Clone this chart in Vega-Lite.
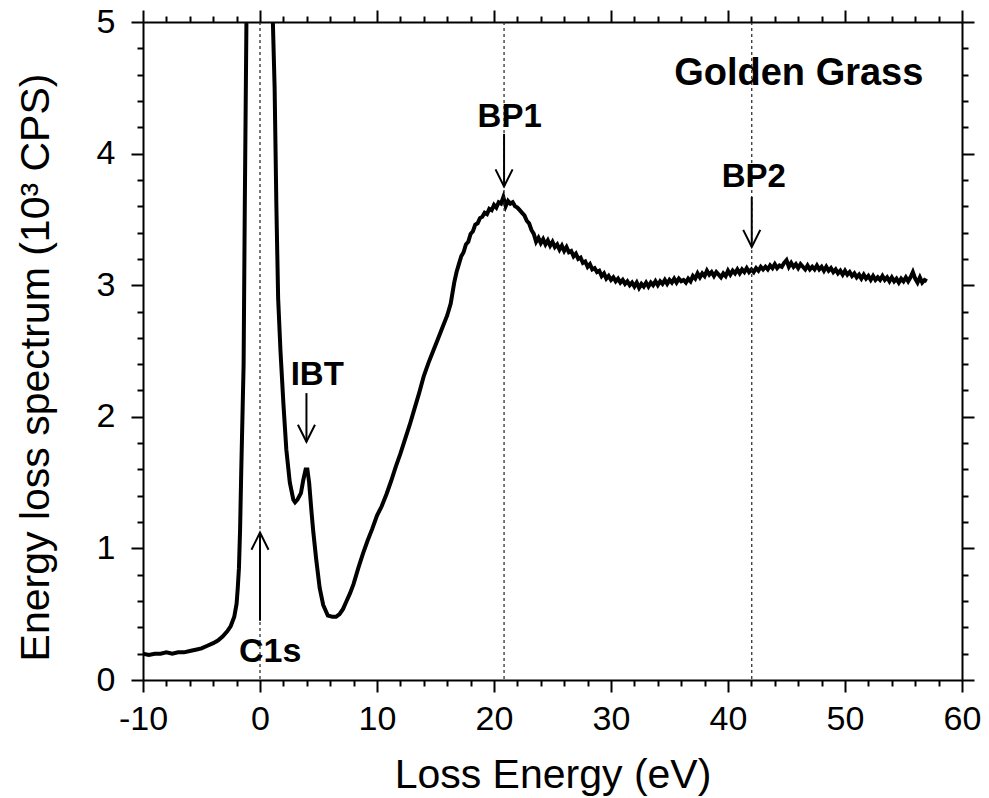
{
  "$schema": "https://vega.github.io/schema/vega-lite/v6.json",
  "width": 819,
  "height": 658,
  "autosize": {"type": "none"},
  "padding": {"left": 143, "top": 22, "right": 27, "bottom": 118},
  "background": "white",
  "config": {
    "view": {"stroke": null},
    "axis": {
      "grid": false,
      "domainColor": "black",
      "domainWidth": 2,
      "tickColor": "black",
      "tickWidth": 2,
      "labelFont": "Liberation Sans",
      "labelFontSize": 34,
      "labelColor": "black",
      "titleFont": "Liberation Sans",
      "titleFontSize": 38,
      "titleFontWeight": "normal",
      "titleColor": "black",
      "labelOverlap": false,
      "labelFlush": false
    }
  },
  "datasets": {
    "curve": [
      {"x": -10, "y": 0.2}, {"x": -9.5, "y": 0.19}, {"x": -9, "y": 0.2}, {"x": -8.5, "y": 0.2}, {"x": -8, "y": 0.21},
      {"x": -7.5, "y": 0.2}, {"x": -7, "y": 0.21}, {"x": -6.5, "y": 0.21}, {"x": -6, "y": 0.22}, {"x": -5.5, "y": 0.23},
      {"x": -5, "y": 0.24}, {"x": -4.5, "y": 0.26}, {"x": -4, "y": 0.28}, {"x": -3.6, "y": 0.3}, {"x": -3.2, "y": 0.33},
      {"x": -2.8, "y": 0.37}, {"x": -2.5, "y": 0.41}, {"x": -2.2, "y": 0.48}, {"x": -2.0, "y": 0.58}, {"x": -1.9, "y": 0.7},
      {"x": -1.8, "y": 0.85}, {"x": -1.7, "y": 1.15}, {"x": -1.6, "y": 1.6}, {"x": -1.5, "y": 2.0}, {"x": -1.4, "y": 2.4},
      {"x": -1.3, "y": 3.6}, {"x": -1.2, "y": 4.6}, {"x": -1.1, "y": 5.6}, {"x": -0.9, "y": 7.5}, {"x": -0.5, "y": 11},
      {"x": 0, "y": 13}, {"x": 0.5, "y": 11}, {"x": 0.9, "y": 7}, {"x": 1.1, "y": 5.0}, {"x": 1.25, "y": 4.5},
      {"x": 1.4, "y": 3.6}, {"x": 1.55, "y": 2.9}, {"x": 1.75, "y": 2.5}, {"x": 2.0, "y": 2.1}, {"x": 2.25, "y": 1.75},
      {"x": 2.55, "y": 1.5}, {"x": 2.85, "y": 1.37}, {"x": 3.0, "y": 1.35}, {"x": 3.2, "y": 1.37}, {"x": 3.5, "y": 1.42},
      {"x": 3.7, "y": 1.52}, {"x": 3.9, "y": 1.6}, {"x": 4.05, "y": 1.6}, {"x": 4.2, "y": 1.5}, {"x": 4.4, "y": 1.28},
      {"x": 4.55, "y": 1.13}, {"x": 4.8, "y": 0.92}, {"x": 5.1, "y": 0.7}, {"x": 5.4, "y": 0.57}, {"x": 5.8, "y": 0.49},
      {"x": 6.2, "y": 0.48}, {"x": 6.5, "y": 0.48}, {"x": 6.8, "y": 0.5}, {"x": 7.1, "y": 0.54}, {"x": 7.4, "y": 0.6},
      {"x": 7.7, "y": 0.66}, {"x": 8.0, "y": 0.73}, {"x": 8.4, "y": 0.85}, {"x": 8.8, "y": 0.96}, {"x": 9.2, "y": 1.06},
      {"x": 9.6, "y": 1.15}, {"x": 10.0, "y": 1.25}, {"x": 10.4, "y": 1.32}, {"x": 10.8, "y": 1.41}, {"x": 11.2, "y": 1.51},
      {"x": 11.6, "y": 1.62}, {"x": 12.0, "y": 1.72}, {"x": 12.4, "y": 1.83}, {"x": 12.8, "y": 1.94}, {"x": 13.2, "y": 2.06},
      {"x": 13.6, "y": 2.18}, {"x": 14.0, "y": 2.31}, {"x": 14.4, "y": 2.41}, {"x": 14.8, "y": 2.5}, {"x": 15.2, "y": 2.59},
      {"x": 15.6, "y": 2.68}, {"x": 16.0, "y": 2.77}, {"x": 16.3, "y": 2.86}, {"x": 16.6, "y": 3.02}, {"x": 16.8, "y": 3.1},
      {"x": 17.0, "y": 3.16}, {"x": 17.2, "y": 3.22}, {"x": 17.4, "y": 3.25}, {"x": 17.6, "y": 3.31}, {"x": 17.8, "y": 3.33},
      {"x": 18.0, "y": 3.39}, {"x": 18.2, "y": 3.41}, {"x": 18.4, "y": 3.46}, {"x": 18.6, "y": 3.47}, {"x": 18.8, "y": 3.51},
      {"x": 19.0, "y": 3.52}, {"x": 19.2, "y": 3.55}, {"x": 19.4, "y": 3.54}, {"x": 19.6, "y": 3.58}, {"x": 19.8, "y": 3.57},
      {"x": 20.0, "y": 3.61}, {"x": 20.2, "y": 3.59}, {"x": 20.4, "y": 3.63}, {"x": 20.6, "y": 3.62}, {"x": 20.8, "y": 3.67},
      {"x": 21.0, "y": 3.6}, {"x": 21.2, "y": 3.64}, {"x": 21.4, "y": 3.62}, {"x": 21.6, "y": 3.63}, {"x": 21.8, "y": 3.6},
      {"x": 22.0, "y": 3.59}, {"x": 22.2, "y": 3.57}, {"x": 22.4, "y": 3.55}, {"x": 22.6, "y": 3.53}, {"x": 22.8, "y": 3.49},
      {"x": 23.0, "y": 3.47}, {"x": 23.2, "y": 3.42}, {"x": 23.4, "y": 3.39}, {"x": 23.6, "y": 3.33}, {"x": 23.8, "y": 3.36},
      {"x": 24.0, "y": 3.32}, {"x": 24.2, "y": 3.35}, {"x": 24.4, "y": 3.31}, {"x": 24.6, "y": 3.34}, {"x": 24.8, "y": 3.3},
      {"x": 25.0, "y": 3.33}, {"x": 25.2, "y": 3.29}, {"x": 25.4, "y": 3.31}, {"x": 25.6, "y": 3.27}, {"x": 25.8, "y": 3.3},
      {"x": 26.0, "y": 3.26}, {"x": 26.2, "y": 3.29}, {"x": 26.4, "y": 3.25}, {"x": 26.6, "y": 3.26}, {"x": 26.8, "y": 3.22},
      {"x": 27.0, "y": 3.24}, {"x": 27.2, "y": 3.2}, {"x": 27.4, "y": 3.21}, {"x": 27.6, "y": 3.17}, {"x": 27.8, "y": 3.18},
      {"x": 28.0, "y": 3.14}, {"x": 28.2, "y": 3.16}, {"x": 28.4, "y": 3.12}, {"x": 28.6, "y": 3.13}, {"x": 28.8, "y": 3.1},
      {"x": 29.0, "y": 3.11}, {"x": 29.2, "y": 3.07}, {"x": 29.4, "y": 3.09}, {"x": 29.6, "y": 3.05}, {"x": 29.8, "y": 3.07},
      {"x": 30.0, "y": 3.04}, {"x": 30.2, "y": 3.06}, {"x": 30.4, "y": 3.03}, {"x": 30.6, "y": 3.05}, {"x": 30.8, "y": 3.02},
      {"x": 31.0, "y": 3.04}, {"x": 31.2, "y": 3.01}, {"x": 31.4, "y": 3.03}, {"x": 31.6, "y": 3.0}, {"x": 31.8, "y": 3.02},
      {"x": 32.0, "y": 2.99}, {"x": 32.2, "y": 3.02}, {"x": 32.4, "y": 2.98}, {"x": 32.6, "y": 3.01}, {"x": 32.8, "y": 2.99},
      {"x": 33.0, "y": 3.02}, {"x": 33.2, "y": 2.99}, {"x": 33.4, "y": 3.02}, {"x": 33.6, "y": 3.0}, {"x": 33.8, "y": 3.03},
      {"x": 34.0, "y": 3.0}, {"x": 34.2, "y": 3.03}, {"x": 34.4, "y": 3.01}, {"x": 34.6, "y": 3.04}, {"x": 34.8, "y": 3.01},
      {"x": 35.0, "y": 3.04}, {"x": 35.2, "y": 3.02}, {"x": 35.4, "y": 3.05}, {"x": 35.6, "y": 3.02}, {"x": 35.8, "y": 3.05},
      {"x": 36.0, "y": 3.03}, {"x": 36.2, "y": 3.04}, {"x": 36.4, "y": 3.02}, {"x": 36.6, "y": 3.05}, {"x": 36.8, "y": 3.03},
      {"x": 37.0, "y": 3.07}, {"x": 37.2, "y": 3.05}, {"x": 37.4, "y": 3.09}, {"x": 37.6, "y": 3.06}, {"x": 37.8, "y": 3.09},
      {"x": 38.0, "y": 3.07}, {"x": 38.2, "y": 3.11}, {"x": 38.4, "y": 3.08}, {"x": 38.6, "y": 3.1}, {"x": 38.8, "y": 3.07},
      {"x": 39.0, "y": 3.1}, {"x": 39.2, "y": 3.08}, {"x": 39.4, "y": 3.06}, {"x": 39.6, "y": 3.09}, {"x": 39.8, "y": 3.07},
      {"x": 40.0, "y": 3.11}, {"x": 40.2, "y": 3.08}, {"x": 40.4, "y": 3.11}, {"x": 40.6, "y": 3.09}, {"x": 40.8, "y": 3.12},
      {"x": 41.0, "y": 3.09}, {"x": 41.2, "y": 3.12}, {"x": 41.4, "y": 3.1}, {"x": 41.6, "y": 3.13}, {"x": 41.8, "y": 3.1},
      {"x": 42.0, "y": 3.12}, {"x": 42.2, "y": 3.1}, {"x": 42.4, "y": 3.13}, {"x": 42.6, "y": 3.11}, {"x": 42.8, "y": 3.14},
      {"x": 43.0, "y": 3.12}, {"x": 43.2, "y": 3.14}, {"x": 43.4, "y": 3.12}, {"x": 43.6, "y": 3.15}, {"x": 43.8, "y": 3.13},
      {"x": 44.0, "y": 3.16}, {"x": 44.2, "y": 3.13}, {"x": 44.4, "y": 3.15}, {"x": 44.6, "y": 3.14}, {"x": 44.8, "y": 3.17},
      {"x": 45.0, "y": 3.19}, {"x": 45.2, "y": 3.14}, {"x": 45.4, "y": 3.17}, {"x": 45.6, "y": 3.14}, {"x": 45.8, "y": 3.16},
      {"x": 46.0, "y": 3.13}, {"x": 46.2, "y": 3.16}, {"x": 46.4, "y": 3.14}, {"x": 46.6, "y": 3.12}, {"x": 46.8, "y": 3.15},
      {"x": 47.0, "y": 3.12}, {"x": 47.2, "y": 3.14}, {"x": 47.4, "y": 3.12}, {"x": 47.6, "y": 3.15}, {"x": 47.8, "y": 3.12},
      {"x": 48.0, "y": 3.14}, {"x": 48.2, "y": 3.11}, {"x": 48.4, "y": 3.14}, {"x": 48.6, "y": 3.11}, {"x": 48.8, "y": 3.13},
      {"x": 49.0, "y": 3.1}, {"x": 49.2, "y": 3.12}, {"x": 49.4, "y": 3.09}, {"x": 49.6, "y": 3.11}, {"x": 49.8, "y": 3.08},
      {"x": 50.0, "y": 3.11}, {"x": 50.2, "y": 3.08}, {"x": 50.4, "y": 3.1}, {"x": 50.6, "y": 3.07}, {"x": 50.8, "y": 3.09},
      {"x": 51.0, "y": 3.06}, {"x": 51.2, "y": 3.08}, {"x": 51.4, "y": 3.05}, {"x": 51.6, "y": 3.08}, {"x": 51.8, "y": 3.05},
      {"x": 52.0, "y": 3.07}, {"x": 52.2, "y": 3.04}, {"x": 52.4, "y": 3.07}, {"x": 52.6, "y": 3.04}, {"x": 52.8, "y": 3.06},
      {"x": 53.0, "y": 3.04}, {"x": 53.2, "y": 3.07}, {"x": 53.4, "y": 3.04}, {"x": 53.6, "y": 3.06}, {"x": 53.8, "y": 3.03},
      {"x": 54.0, "y": 3.06}, {"x": 54.2, "y": 3.03}, {"x": 54.4, "y": 3.05}, {"x": 54.6, "y": 3.02}, {"x": 54.8, "y": 3.05},
      {"x": 55.0, "y": 3.03}, {"x": 55.2, "y": 3.06}, {"x": 55.4, "y": 3.03}, {"x": 55.6, "y": 3.06}, {"x": 55.8, "y": 3.1},
      {"x": 56.0, "y": 3.05}, {"x": 56.2, "y": 3.02}, {"x": 56.4, "y": 3.06}, {"x": 56.6, "y": 3.02}, {"x": 56.8, "y": 3.04},
      {"x": 57.0, "y": 3.03}
    ],
    "vlines": [{"x": 0}, {"x": 20.86}, {"x": 42.03}],
    "shafts": [
      {"x": 0, "y1": 0.45, "y2": 1.12},
      {"x": 3.97, "y1": 2.18, "y2": 1.81},
      {"x": 20.86, "y1": 4.15, "y2": 3.75},
      {"x": 42.03, "y1": 3.67, "y2": 3.29}
    ],
    "heads": [
      {"g": "C1s", "o": 1, "x": -0.73, "y": 0.99}, {"g": "C1s", "o": 2, "x": 0, "y": 1.12}, {"g": "C1s", "o": 3, "x": 0.73, "y": 0.99},
      {"g": "IBT", "o": 1, "x": 3.24, "y": 1.94}, {"g": "IBT", "o": 2, "x": 3.97, "y": 1.81}, {"g": "IBT", "o": 3, "x": 4.7, "y": 1.94},
      {"g": "BP1", "o": 1, "x": 20.13, "y": 3.88}, {"g": "BP1", "o": 2, "x": 20.86, "y": 3.75}, {"g": "BP1", "o": 3, "x": 21.59, "y": 3.88},
      {"g": "BP2", "o": 1, "x": 41.3, "y": 3.42}, {"g": "BP2", "o": 2, "x": 42.03, "y": 3.29}, {"g": "BP2", "o": 3, "x": 42.76, "y": 3.42}
    ],
    "labels": [
      {"t": "C1s", "x": 0.87, "y": 0.137, "s": 34},
      {"t": "IBT", "x": 4.89, "y": 2.24, "s": 33},
      {"t": "BP1", "x": 21.34, "y": 4.2, "s": 33},
      {"t": "BP2", "x": 42.2, "y": 3.75, "s": 33},
      {"t": "Golden Grass", "x": 46.05, "y": 4.52, "s": 38}
    ]
  },
  "layer": [
    {
      "data": {"name": "curve"},
      "mark": {"type": "line", "color": "black", "strokeWidth": 4, "clip": true, "interpolate": "linear"},
      "encoding": {
        "x": {
          "field": "x", "type": "quantitative",
          "scale": {"domain": [-10, 60], "nice": false, "zero": false},
          "axis": {
            "orient": "bottom",
            "title": "Loss Energy (eV)",
            "titleFontSize": 41,
            "values": [-10,-8,-6,-4,-2,0,2,4,6,8,10,12,14,16,18,20,22,24,26,28,30,32,34,36,38,40,42,44,46,48,50,52,54,56,58,60],
            "labelExpr": "datum.value % 10 === 0 ? '' + datum.value : ''",
            "tickSize": {"condition": {"test": "datum.value % 10 === 0", "value": 12}, "value": 6},
            "labelPadding": 10,
            "titleY": 107,
            "titleBaseline": "alphabetic"
          }
        },
        "y": {
          "field": "y", "type": "quantitative",
          "scale": {"domain": [0, 5], "nice": false},
          "axis": {
            "orient": "left",
            "title": "Energy loss spectrum (10³ CPS)",
            "titleFontSize": 41,
            "values": [0,0.2,0.4,0.6,0.8,1,1.2,1.4,1.6,1.8,2,2.2,2.4,2.6,2.8,3,3.2,3.4,3.6,3.8,4,4.2,4.4,4.6,4.8,5],
            "labelExpr": "datum.value % 1 === 0 ? '' + datum.value : ''",
            "tickSize": {"condition": {"test": "datum.value % 1 === 0", "value": 12}, "value": 6},
            "labelPadding": 16,
            "titleX": -95,
            "titleY": 345,
            "titleAngle": -90,
            "titleAlign": "center",
            "titleBaseline": "alphabetic"
          }
        }
      }
    },
    {
      "data": {"name": "vlines"},
      "mark": {"type": "rule", "color": "#222222", "strokeWidth": 1.2, "strokeDash": [3, 3]},
      "encoding": {
        "x": {
          "field": "x", "type": "quantitative",
          "scale": {"domain": [-10, 60], "nice": false, "zero": false},
          "axis": {
            "orient": "top",
            "title": null,
            "labels": false,
            "values": [-10,-8,-6,-4,-2,0,2,4,6,8,10,12,14,16,18,20,22,24,26,28,30,32,34,36,38,40,42,44,46,48,50,52,54,56,58,60],
            "tickSize": {"condition": {"test": "datum.value % 10 === 0", "value": 12}, "value": 6}
          }
        }
      }
    },
    {
      "data": {"name": "shafts"},
      "mark": {"type": "rule", "color": "black", "strokeWidth": 2},
      "encoding": {
        "x": {"field": "x", "type": "quantitative", "scale": {"domain": [-10, 60], "nice": false, "zero": false}, "axis": null},
        "y": {
          "field": "y1", "type": "quantitative",
          "scale": {"domain": [0, 5], "nice": false},
          "axis": {
            "orient": "right",
            "title": null,
            "labels": false,
            "values": [0,0.2,0.4,0.6,0.8,1,1.2,1.4,1.6,1.8,2,2.2,2.4,2.6,2.8,3,3.2,3.4,3.6,3.8,4,4.2,4.4,4.6,4.8,5],
            "tickSize": {"condition": {"test": "datum.value % 1 === 0", "value": 12}, "value": 6}
          }
        },
        "y2": {"field": "y2"}
      }
    },
    {
      "data": {"name": "heads"},
      "mark": {"type": "line", "color": "black", "strokeWidth": 2},
      "encoding": {
        "x": {"field": "x", "type": "quantitative", "scale": {"domain": [-10, 60], "nice": false, "zero": false}, "axis": null},
        "y": {"field": "y", "type": "quantitative", "scale": {"domain": [0, 5], "nice": false}, "axis": null},
        "detail": {"field": "g", "type": "nominal"},
        "order": {"field": "o", "type": "quantitative"}
      }
    },
    {
      "data": {"name": "labels"},
      "mark": {"type": "text", "font": "Liberation Sans", "fontWeight": "bold", "color": "black", "align": "center", "baseline": "alphabetic"},
      "encoding": {
        "x": {"field": "x", "type": "quantitative", "scale": {"domain": [-10, 60], "nice": false, "zero": false}, "axis": null},
        "y": {"field": "y", "type": "quantitative", "scale": {"domain": [0, 5], "nice": false}, "axis": null},
        "text": {"field": "t", "type": "nominal"},
        "size": {"field": "s", "type": "quantitative", "scale": null, "legend": null}
      }
    }
  ],
  "resolve": {"axis": {"x": "independent", "y": "independent"}}
}
